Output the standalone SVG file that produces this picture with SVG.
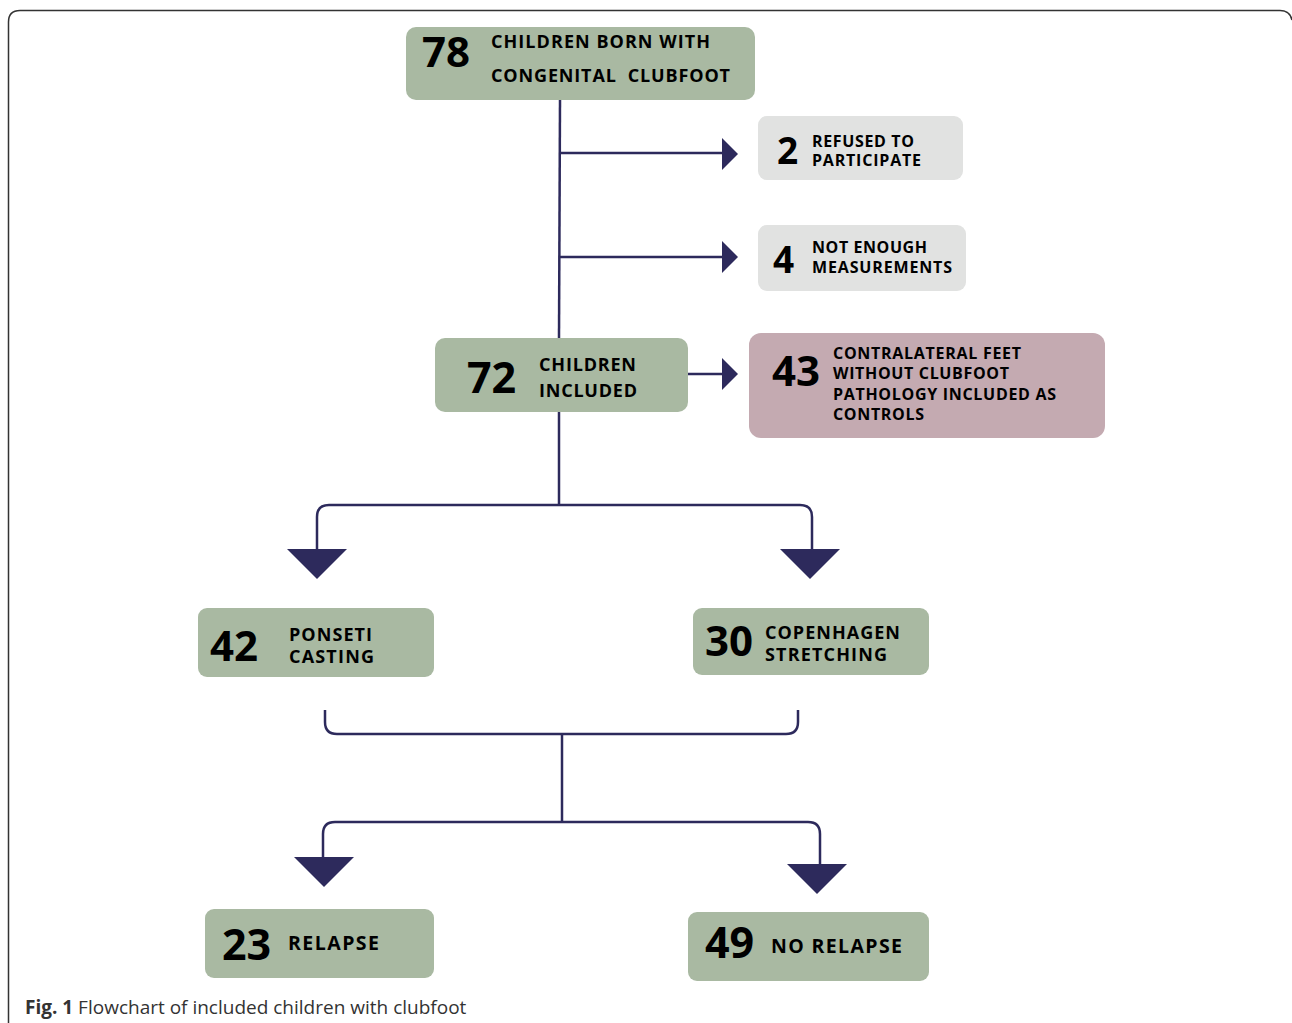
<svg xmlns="http://www.w3.org/2000/svg" width="1292" height="1023" viewBox="0 0 1292 1023">
<style>
.g{fill:#a9b9a2}
.gr{fill:#e1e2e1}
.pk{fill:#c4aab1}
.num{font-family:"Open Sans","DejaVu Sans",sans-serif;font-weight:700;fill:#000}
.lbl{font-family:"Open Sans","DejaVu Sans",sans-serif;font-weight:700;fill:#000}
.ln{fill:none;stroke:#2d2a5c;stroke-width:2.5}
.ah{fill:#2d2a5c}
.cap{font-family:"Open Sans","Liberation Sans",sans-serif;font-size:19px;fill:#333}
</style>
<rect width="1292" height="1023" fill="#fff"/>
<path d="M8.5,1023 V22 Q8.5,10.5 20,10.5 H1280 Q1290,10.5 1292,20" fill="none" stroke="#333" stroke-width="1.5"/>
<g id="connectors">
<path class="ln" d="M560,100 L559,338"/>
<path class="ln" d="M560,153 H724"/>
<polygon class="ah" points="722,138 738,154 722,170"/>
<path class="ln" d="M560,257 H724"/>
<polygon class="ah" points="722,241 738,257 722,273"/>
<path class="ln" d="M688,374 H724"/>
<polygon class="ah" points="722,358 738,374 722,390"/>
<path class="ln" d="M559,412 V505"/>
<path class="ln" d="M317,552 V517 Q317,505 329,505 H800 Q812,505 812,517 V552"/>
<polygon class="ah" points="287,549 347,549 317,579"/>
<polygon class="ah" points="780,549 840,549 810,579"/>
<path class="ln" d="M325,710 V722 Q325,734 337,734 H786 Q798,734 798,722 V710"/>
<path class="ln" d="M562,734 V822"/>
<path class="ln" d="M323,860 V834 Q323,822 335,822 H808 Q820,822 820,834 V866"/>
<polygon class="ah" points="294,857 354,857 324,887"/>
<polygon class="ah" points="787,864 847,864 817,894"/>
</g>
<g id="n78">
<rect class="g" x="406" y="27" width="349" height="73" rx="10"/>
<text class="num" x="422" y="67" font-size="42">78</text>
<text class="lbl" x="491" y="48" font-size="18" textLength="219" lengthAdjust="spacing">CHILDREN BORN WITH</text>
<text class="lbl" x="491" y="82" font-size="18" textLength="239" lengthAdjust="spacing" xml:space="preserve">CONGENITAL  CLUBFOOT</text>
</g>
<g id="n2">
<rect class="gr" x="758" y="116" width="205" height="64" rx="9"/>
<text class="num" x="777" y="164" font-size="37">2</text>
<text class="lbl" x="812" y="147" font-size="16" textLength="102" lengthAdjust="spacing">REFUSED TO</text>
<text class="lbl" x="812" y="166" font-size="16" textLength="109" lengthAdjust="spacing">PARTICIPATE</text>
</g>
<g id="n4">
<rect class="gr" x="758" y="225" width="208" height="66" rx="9"/>
<text class="num" x="773" y="273" font-size="37">4</text>
<text class="lbl" x="812" y="253" font-size="16" textLength="115" lengthAdjust="spacing">NOT ENOUGH</text>
<text class="lbl" x="812" y="273" font-size="16" textLength="140" lengthAdjust="spacing">MEASUREMENTS</text>
</g>
<g id="n72">
<rect class="g" x="435" y="338" width="253" height="74" rx="10"/>
<text class="num" x="467" y="393" font-size="43">72</text>
<text class="lbl" x="539" y="371" font-size="18" textLength="97" lengthAdjust="spacing">CHILDREN</text>
<text class="lbl" x="539" y="397" font-size="18" textLength="98" lengthAdjust="spacing">INCLUDED</text>
</g>
<g id="n43">
<rect class="pk" x="749" y="333" width="356" height="105" rx="12"/>
<text class="num" x="772" y="386" font-size="42">43</text>
<text class="lbl" x="833" y="359" font-size="16" textLength="188" lengthAdjust="spacing">CONTRALATERAL FEET</text>
<text class="lbl" x="833" y="379" font-size="16" textLength="176" lengthAdjust="spacing">WITHOUT CLUBFOOT</text>
<text class="lbl" x="833" y="400" font-size="16" textLength="223" lengthAdjust="spacing">PATHOLOGY INCLUDED AS</text>
<text class="lbl" x="833" y="420" font-size="16" textLength="91" lengthAdjust="spacing">CONTROLS</text>
</g>
<g id="n42">
<rect class="g" x="198" y="608" width="236" height="69" rx="9"/>
<text class="num" x="210" y="661" font-size="42">42</text>
<text class="lbl" x="289" y="641" font-size="18" textLength="83" lengthAdjust="spacing">PONSETI</text>
<text class="lbl" x="289" y="663" font-size="18" textLength="85" lengthAdjust="spacing">CASTING</text>
</g>
<g id="n30">
<rect class="g" x="693" y="608" width="236" height="67" rx="9"/>
<text class="num" x="705" y="656" font-size="42">30</text>
<text class="lbl" x="765" y="639" font-size="18" textLength="135" lengthAdjust="spacing">COPENHAGEN</text>
<text class="lbl" x="765" y="661" font-size="18" textLength="122" lengthAdjust="spacing">STRETCHING</text>
</g>
<g id="n23">
<rect class="g" x="205" y="909" width="229" height="69" rx="9"/>
<text class="num" x="222" y="960" font-size="43">23</text>
<text class="lbl" x="288" y="950" font-size="19.5" textLength="91" lengthAdjust="spacing">RELAPSE</text>
</g>
<g id="n49">
<rect class="g" x="688" y="912" width="241" height="69" rx="9"/>
<text class="num" x="705" y="958" font-size="43">49</text>
<text class="lbl" x="771" y="953" font-size="19.5" textLength="131" lengthAdjust="spacing">NO RELAPSE</text>
</g>
<text class="cap" x="25" y="1014"><tspan font-weight="700">Fig. 1</tspan> Flowchart of included children with clubfoot</text>
</svg>
